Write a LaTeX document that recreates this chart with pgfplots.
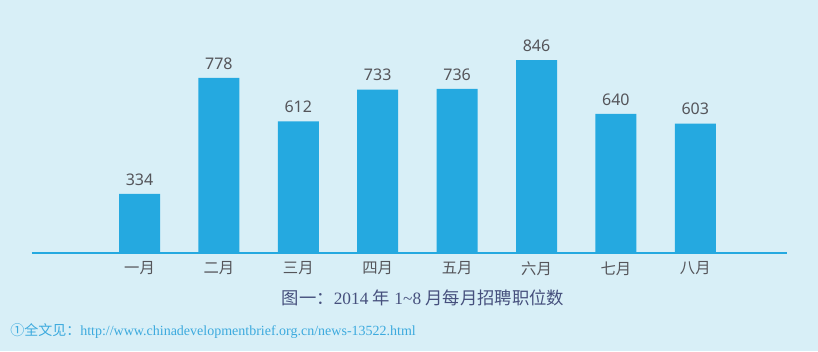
\documentclass[border=0pt]{standalone}
\usepackage{pgfplots}
\pgfplotsset{compat=1.18}
\usepackage{fontspec}
\setmainfont{Liberation Serif}
\newfontfamily\cjk{Noto Sans CJK SC}
\newfontfamily\numfont{Noto Sans}
\definecolor{bg}{RGB}{216,239,247}
\definecolor{bar}{RGB}{37,169,224}
\definecolor{lbl}{RGB}{85,85,90}
\definecolor{cap}{RGB}{70,80,125}
\definecolor{foot}{RGB}{60,170,222}
\begin{document}
\begin{tikzpicture}[x=0.75pt,y=0.75pt]
\fill[bg] (0,0) rectangle (818,351);
\begin{axis}[
  at={(32*0.75pt,98*0.75pt)}, anchor=south west,
  scale only axis,
  width=566.25pt, height=150.5pt,
  xmin=-1.354, xmax=8.155,
  ymin=108, ymax=876,
  axis x line=bottom,
  axis y line=none,
  axis line style={bar, line width=1.5pt, -},
  ytick=\empty,
  xtick={0,1,2,3,4,5,6,7},
  xticklabels={一月,二月,三月,四月,五月,六月,七月,八月},
  x tick label style={font=\cjk\fontsize{11.5}{13}\selectfont, text=lbl, yshift=-3pt},
  major tick length=0pt,
  ybar, bar width=30.75pt,
  nodes near coords,
  /pgf/number format/assume math mode=true,
  every node near coord/.append style={font=\numfont\fontsize{12}{14}\selectfont, text=lbl, yshift=3pt},
  clip=false,
]
\addplot[fill=bar, draw=none] coordinates {(0,334) (1,778) (2,612) (3,733) (4,736) (5,846) (6,640) (7,603)};
\end{axis}
\node[text=cap, font=\fontsize{13}{15}\selectfont] at (423,53) {{\cjk 图一：}2014 {\cjk 年} 1\textasciitilde 8 {\cjk 月每月招聘职位数}};
\node[text=foot, font=\fontsize{10.5}{12}\selectfont, anchor=west, inner sep=0pt] at (10,20) {{\cjk ①全文见：}http://www.chinadevelopmentbrief.org.cn/news-13522.html};
\end{tikzpicture}
\end{document}
